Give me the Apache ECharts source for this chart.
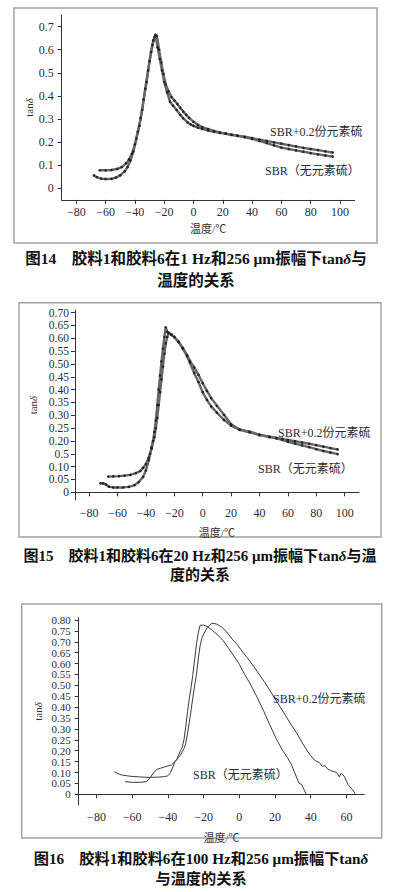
<!DOCTYPE html>
<html><head><meta charset="utf-8">
<script src="https://cdn.jsdelivr.net/npm/echarts@6/dist/echarts.min.js"></script>
<style>html,body{margin:0;padding:0;background:#fff}#c{width:393px;height:892px}</style>
</head><body><div id="c"></div>
<script>
// ---------- data ----------
// Fig.14 (1 Hz)
const fig14SbrT   = [-68,-66,-63,-60,-56,-53,-50,-47,-45,-43,-41,-39,-37,-35,-33,-31,-29,-27.5,-26,-24.5,-23,-21.5,-20,-18,-16,-14,-11.5,-9,-7,-4,-2,0,3,6,10,14,18,22,26,30,35,40,45,50,55,60,65,70,75,80,85,90,95];
const fig14SbrTan = [0.056,0.048,0.042,0.040,0.041,0.046,0.056,0.073,0.092,0.12,0.16,0.215,0.27,0.34,0.43,0.51,0.59,0.64,0.665,0.61,0.56,0.51,0.46,0.415,0.375,0.358,0.339,0.318,0.303,0.285,0.277,0.27,0.263,0.257,0.25,0.245,0.24,0.236,0.231,0.227,0.221,0.214,0.205,0.196,0.186,0.176,0.17,0.164,0.158,0.152,0.147,0.142,0.137];
const fig14SulT   = [-64,-60,-56,-52,-49,-46,-44,-42,-40,-38,-36,-34,-32,-30,-28,-26.5,-25,-23.5,-22,-20.5,-19,-17,-15,-13,-11,-9,-7,-5,-3,0,3,6,10,14,18,22,26,30,35,40,45,50,55,60,65,70,75,80,85,90,95];
const fig14SulTan = [0.078,0.078,0.079,0.084,0.092,0.108,0.125,0.15,0.19,0.245,0.305,0.385,0.46,0.55,0.62,0.655,0.66,0.60,0.545,0.495,0.45,0.42,0.395,0.38,0.365,0.348,0.332,0.318,0.305,0.288,0.275,0.265,0.256,0.248,0.242,0.237,0.232,0.228,0.223,0.217,0.211,0.205,0.199,0.193,0.187,0.181,0.175,0.17,0.165,0.16,0.155];
// Fig.15 (20 Hz)
const fig15SbrT   = [-72,-70,-68,-66,-63,-60,-56,-52,-48,-45,-42,-40,-38,-37,-36,-35,-34,-33,-32,-31,-30,-29,-28,-27,-26,-25,-24,-22,-20,-17,-14,-11,-9,-6,-3,0,3,6,10,15,20,26,33,40,47,52,56,60,65,70,75,80,85,90,95];
const fig15SbrTan = [0.035,0.035,0.03,0.022,0.019,0.019,0.019,0.021,0.028,0.04,0.06,0.085,0.125,0.15,0.175,0.20,0.235,0.28,0.34,0.40,0.455,0.51,0.56,0.605,0.643,0.625,0.62,0.613,0.605,0.585,0.56,0.53,0.505,0.465,0.43,0.39,0.36,0.335,0.31,0.282,0.26,0.243,0.234,0.223,0.215,0.21,0.204,0.197,0.19,0.183,0.176,0.168,0.161,0.155,0.149];
const fig15SulT   = [-66.5,-63,-59,-55,-51,-47,-44,-42,-40,-38,-36,-34,-33,-32,-31,-30,-29,-28,-27,-26,-25,-24,-22,-20,-17,-14,-11,-9,-6,-3,0,3,6,10,15,20,26,33,40,47,52,56,60,65,70,75,80,85,90,95];
const fig15SulTan = [0.061,0.062,0.063,0.065,0.068,0.075,0.083,0.095,0.11,0.135,0.17,0.215,0.25,0.29,0.34,0.39,0.44,0.49,0.54,0.58,0.605,0.622,0.615,0.605,0.587,0.563,0.535,0.512,0.487,0.458,0.425,0.395,0.367,0.337,0.302,0.265,0.245,0.236,0.225,0.217,0.212,0.208,0.204,0.199,0.194,0.189,0.184,0.178,0.172,0.167];
// Fig.16 (100 Hz)
const fig16SbrT   = [-64,-60,-56,-52,-50,-48,-46,-44,-41,-38,-36,-35,-34,-33,-32,-31,-30,-29,-28,-27,-26,-25,-24,-23,-22,-20,-18,-15,-12,-9,-6,-3,0,3,6,10,13.5,17,21,24,27,29,31,32.5,33.5,35,36,37.5];
const fig16SbrTan = [0.058,0.055,0.055,0.058,0.075,0.10,0.115,0.12,0.128,0.135,0.15,0.16,0.18,0.20,0.215,0.25,0.31,0.38,0.44,0.49,0.55,0.62,0.69,0.74,0.775,0.777,0.77,0.752,0.73,0.705,0.67,0.635,0.597,0.55,0.509,0.445,0.385,0.32,0.25,0.205,0.168,0.14,0.10,0.07,0.05,0.045,0.025,0.0];
const fig16SulT   = [-70,-68,-66,-63,-60,-56,-52,-48,-45,-42,-40,-38.5,-37,-36,-35,-33,-31,-30,-29,-28,-27,-26,-25,-24,-23,-22,-21,-20,-18,-15.5,-13,-10,-7,-4,-1,2,5,8,11,14,17,20,23,26,29,32,35,38,40,42,43.5,45,46.5,48,49.5,51,53,54.5,56,57,58,59,60,61,62,63,64,65];
const fig16SulTan = [0.104,0.095,0.089,0.085,0.082,0.080,0.078,0.078,0.079,0.081,0.085,0.10,0.13,0.15,0.16,0.18,0.21,0.234,0.28,0.33,0.387,0.445,0.50,0.55,0.62,0.68,0.715,0.735,0.765,0.785,0.782,0.768,0.745,0.712,0.685,0.652,0.621,0.587,0.552,0.517,0.478,0.439,0.40,0.36,0.32,0.283,0.24,0.20,0.178,0.158,0.15,0.145,0.128,0.132,0.115,0.11,0.104,0.10,0.08,0.097,0.09,0.08,0.06,0.043,0.035,0.025,0.015,0.0];

// tick labels
const xTicksA   = [-80,-60,-40,-20,0,20,40,60,80,100];
const xLabelsA  = ['−80','−60','−40','−20','0','20','40','60','80','100'];
const xTicksB   = [-80,-60,-40,-20,0,20,40,60];
const xLabelsB  = ['−80','−60','−40','−20','0','20','40','60'];
const fig14YTicks  = [0,0.1,0.2,0.3,0.4,0.5,0.6,0.7];
const fig14YLabels = ['0','0.1','0.2','0.3','0.4','0.5','0.6','0.7'];
const fig15YTicks  = [0,0.05,0.10,0.15,0.20,0.25,0.30,0.35,0.40,0.45,0.50,0.55,0.60,0.65,0.70];
const fig15YLabels = ['0','0.05','0.10','0.5','0.20','0.25','0.30','0.35','0.40','0.45','0.50','0.55','0.60','0.65','0.70'];
const fig16YTicks  = [0,0.05,0.10,0.15,0.20,0.25,0.30,0.35,0.40,0.45,0.50,0.55,0.60,0.65,0.70,0.75,0.80];
const fig16YLabels = ['0','0.05','0.10','0.15','0.20','0.25','0.30','0.35','0.40','0.45','0.50','0.55','0.60','0.65','0.70','0.75','0.80'];

const seriesNameSul = 'SBR+0.2份元素硫';
const seriesNameSbr = 'SBR（无元素硫）';
const xName = '温度/℃';
const captions = [
  ['图14　胶料1和胶料6在1 Hz和256 μm振幅下tan{i|δ}与', '温度的关系'],
  ['图15　胶料1和胶料6在20 Hz和256 μm振幅下tan{i|δ}与温', '度的关系'],
  ['图16　胶料1和胶料6在100 Hz和256 μm振幅下tan{i|δ}', '与温度的关系']
];

// ---------- build ----------
const zip = (a,b) => a.map((v,i)=>[v,b[i]]);
const SERIF = '"Liberation Serif","Noto Sans CJK SC",serif';
const lab = (ticks, labels) => v => { let best=0; ticks.forEach((t,i)=>{ if(Math.abs(t-v)<Math.abs(ticks[best]-v)) best=i; }); return labels[best]; };

const grids = [
  {left:61.65, top:15.05, width:293, height:184.8},
  {left:74.9, top:310.1, width:284, height:189.9},
  {left:78.65, top:617.8, width:285.6, height:187.4}
];
const xCfg = [
  {min:-90,max:110,ticks:xTicksA,labels:xLabelsA,onZero:false,margin:6,gap:24,fs:12},
  {min:-90,max:110,ticks:xTicksA,labels:xLabelsA,onZero:true,margin:7,gap:27,fs:12},
  {min:-90,max:70,ticks:xTicksB,labels:xLabelsB,onZero:true,margin:6,gap:27,fs:12}
];
const yCfg = [
  {min:-0.05,max:0.75,ticks:fig14YTicks,labels:fig14YLabels,margin:8,gap:27,fs:12,lh:12},
  {min:-0.03,max:0.71,ticks:fig15YTicks,labels:fig15YLabels,margin:6,gap:36,fs:11.5,lh:11},
  {min:-0.05,max:0.81,ticks:fig16YTicks,labels:fig16YLabels,margin:8,gap:35,fs:11,lh:9.5}
];
const axisColor = '#333';

const xAxis = xCfg.map((c,i)=>({
  type:'value', gridIndex:i, min:c.min, max:c.max,
  axisLine:{show:true, onZero:c.onZero, lineStyle:{color:axisColor,width:1}},
  axisTick:{show:true, length:4, customValues:c.ticks, lineStyle:{color:axisColor}},
  axisLabel:{customValues:c.ticks, formatter:lab(c.ticks,c.labels), margin:c.margin,
    fontFamily:SERIF, fontSize:c.fs, color:'#2b2b35', showMinLabel:true, showMaxLabel:true, hideOverlap:false},
  splitLine:{show:false},
  name:xName, nameLocation:'middle', nameGap:c.gap, nameMoveOverlap:false,
  nameTextStyle:{fontFamily:SERIF, fontSize:11, color:'#333'}
}));
const yAxis = yCfg.map((c,i)=>({
  type:'value', gridIndex:i, min:c.min, max:c.max,
  axisLine:{show:true, onZero:false, lineStyle:{color:axisColor,width:1}},
  axisTick:{show:true, length:4, customValues:c.ticks, lineStyle:{color:axisColor}},
  axisLabel:{customValues:c.ticks, formatter:lab(c.ticks,c.labels), margin:c.margin,
    fontFamily:SERIF, fontSize:c.fs, lineHeight:c.lh, color:'#2b2b35', showMinLabel:true, showMaxLabel:true, hideOverlap:false},
  splitLine:{show:false},
  name:'tan{i|δ}', nameLocation:'middle', nameGap:c.gap, nameRotate:90, nameMoveOverlap:false,
  nameTextStyle:{fontFamily:SERIF, fontSize:11, color:'#333', rich:{i:{fontFamily:SERIF,fontSize:11,fontStyle:'italic',color:'#333'}}}
}));

const dotted = (name, data, idx) => ({
  type:'line', name, xAxisIndex:idx, yAxisIndex:idx, data,
  showSymbol:true, symbol:'circle', symbolSize:2.6,
  itemStyle:{color:'#222'}, lineStyle:{color:'#666', width:2.4}, z:3
});
const thin = (name, data, idx) => ({
  type:'line', name, xAxisIndex:idx, yAxisIndex:idx, data,
  showSymbol:false, lineStyle:{color:'#3a3a3a', width:1}
});

const series = [
  dotted(seriesNameSbr, zip(fig14SbrT,fig14SbrTan), 0),
  dotted(seriesNameSul, zip(fig14SulT,fig14SulTan), 0),
  dotted(seriesNameSbr, zip(fig15SbrT,fig15SbrTan), 1),
  dotted(seriesNameSul, zip(fig15SulT,fig15SulTan), 1),
  thin(seriesNameSbr, zip(fig16SbrT,fig16SbrTan), 2),
  thin(seriesNameSul, zip(fig16SulT,fig16SulTan), 2)
];

const frames = [
  {x:14, y:8, w:363, h:235},
  {x:19, y:302.7, w:362, h:234.3},
  {x:21.7, y:604, w:360, h:234}
];
const seriesLabelPos = [
  [[270,132],[265,171]],
  [[278,432.7],[258,469]],
  [[273,699],[193,775]]
];
const captionPos = [[196,258,280],[200,556,575],[201,858,878]];

const graphic = [];
frames.forEach(f=>graphic.push({type:'rect', shape:{x:f.x,y:f.y,width:f.w,height:f.h}, style:{fill:'none', stroke:'#a3a3a3', lineWidth:1.5}, z:0, silent:true}));
seriesLabelPos.forEach(p=>{
  graphic.push({type:'text', x:p[0][0], y:p[0][1], style:{text:seriesNameSul, font:'12px '+SERIF, fill:'#2b2b35', textAlign:'left', textVerticalAlign:'middle'}});
  graphic.push({type:'text', x:p[1][0], y:p[1][1], style:{text:seriesNameSbr, font:'12px '+SERIF, fill:'#2b2b35', textAlign:'left', textVerticalAlign:'middle'}});
});
const CAPFS = [15.5, 15, 15.2];
captions.forEach((c,i)=>{
  const p = captionPos[i];
  const capFont = 'bold '+CAPFS[i]+'px '+SERIF;
  graphic.push({type:'text', x:p[0], y:p[1], style:{text:c[0], font:capFont, fill:'#111', textAlign:'center', textVerticalAlign:'middle',
    rich:{i:{fontFamily:SERIF, fontSize:CAPFS[i], fontWeight:'bold', fontStyle:'italic', fill:'#111'}}}});
  graphic.push({type:'text', x:p[0], y:p[2], style:{text:c[1], font:capFont, fill:'#111', textAlign:'center', textVerticalAlign:'middle'}});
});

const chart = echarts.init(document.getElementById('c'), null, {renderer:'svg', width:393, height:892});
chart.setOption({
  backgroundColor:'#fff', animation:false,
  grid:grids.map(g=>Object.assign({containLabel:false}, g)),
  xAxis, yAxis, series, graphic
});
</script></body></html>
